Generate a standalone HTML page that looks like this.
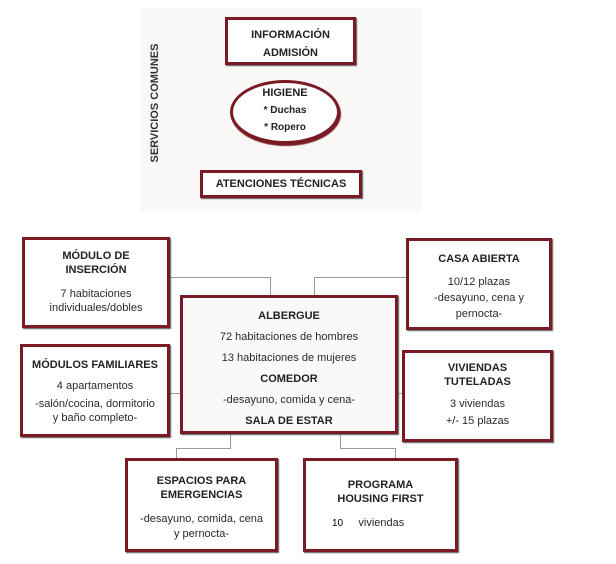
<!DOCTYPE html>
<html><head><meta charset="utf-8"><style>
body{margin:0;width:616px;height:564px;background:#fff;position:relative;overflow:hidden;font-family:"Liberation Sans",Arial,sans-serif;color:#2a2a2a}
.bx{position:absolute;box-sizing:border-box;border:3px solid #7a1a24;box-shadow:1px 1px 1px #555;background:#fff;text-align:center;font-size:11px;line-height:14px}
b{font-weight:bold;color:#222}
.ln{position:absolute;background:#999}
</style></head><body>
<div style="position:absolute;left:140px;top:8px;width:282px;height:204px;background:#f9f8f7"></div>
<div style="position:absolute;left:155px;top:103px;transform:translate(-50%,-50%) rotate(-90deg);font-weight:bold;font-size:11px;white-space:nowrap;color:#333">SERVICIOS COMUNES</div>
<div class="bx" style="left:225px;top:17px;width:131px;height:48px;padding-top:6px;line-height:18px"><b>INFORMACIÓN<br>ADMISIÓN</b></div>
<div style="position:absolute;left:230px;top:80px;width:110px;height:64px;box-sizing:border-box;border:3px solid #7a1a24;border-radius:50%;background:#fff;box-shadow:1px 2px 1px #7a1a24;text-align:center;font-size:10px;line-height:17px;padding-top:2px"><b style="font-size:11px">HIGIENE</b><br><b>* Duchas</b><br><b>* Ropero</b></div>
<div class="bx" style="left:200px;top:170px;width:162px;height:28px;line-height:22px"><b>ATENCIONES TÉCNICAS</b></div>

<div class="ln" style="left:170px;top:277px;width:101px;height:1px"></div>
<div class="ln" style="left:270px;top:277px;width:1px;height:18px"></div>
<div class="ln" style="left:314px;top:277px;width:99px;height:1px"></div>
<div class="ln" style="left:314px;top:277px;width:1px;height:18px"></div>
<div class="ln" style="left:170px;top:393px;width:12px;height:1px"></div>
<div class="ln" style="left:398px;top:393px;width:6px;height:1px"></div>
<div class="ln" style="left:230px;top:434px;width:1px;height:14px"></div>
<div class="ln" style="left:176px;top:448px;width:55px;height:1px"></div>
<div class="ln" style="left:176px;top:448px;width:1px;height:10px"></div>
<div class="ln" style="left:340px;top:434px;width:1px;height:14px"></div>
<div class="ln" style="left:340px;top:448px;width:55px;height:1px"></div>
<div class="ln" style="left:395px;top:448px;width:1px;height:10px"></div>

<div class="bx" style="left:22px;top:237px;width:148px;height:91px;padding-top:9px"><b>MÓDULO DE<br>INSERCIÓN</b><div style="margin-top:10px">7 habitaciones<br>individuales/dobles</div></div>
<div class="bx" style="left:406px;top:238px;width:146px;height:92px;padding-top:11px"><b>CASA ABIERTA</b><div style="margin-top:8px;line-height:16px">10/12 plazas<br>-desayuno, cena y<br>pernocta-</div></div>
<div class="bx" style="left:180px;top:295px;width:218px;height:139px;padding-top:8px;background:#fbf9f8;line-height:21px"><b>ALBERGUE</b><br>72 habitaciones de hombres<br>13 habitaciones de mujeres<br><b>COMEDOR</b><br>-desayuno, comida y cena-<br><b>SALA DE ESTAR</b></div>
<div class="bx" style="left:20px;top:344px;width:150px;height:93px;padding-top:8px;line-height:21px"><b>MÓDULOS FAMILIARES</b><br>4 apartamentos<div style="line-height:14px">-salón/cocina, dormitorio<br>y baño completo-</div></div>
<div class="bx" style="left:402px;top:350px;width:151px;height:92px;padding-top:8px"><b>VIVIENDAS<br>TUTELADAS</b><div style="margin-top:7px;line-height:17px">3 viviendas<br>+/- 15 plazas</div></div>
<div class="bx" style="left:125px;top:458px;width:153px;height:94px;padding-top:13px"><b>ESPACIOS PARA<br>EMERGENCIAS</b><div style="margin-top:10px;line-height:15px">-desayuno, comida, cena<br>y pernocta-</div></div>
<div class="bx" style="left:303px;top:458px;width:155px;height:94px;padding-top:17px"><b>PROGRAMA<br>HOUSING FIRST</b><div style="margin-top:10px;text-align:left;padding-left:26px"><span style="font-size:10px;color:#000">10</span>&nbsp;&nbsp;&nbsp;&nbsp;&nbsp;viviendas</div></div>
</body></html>
